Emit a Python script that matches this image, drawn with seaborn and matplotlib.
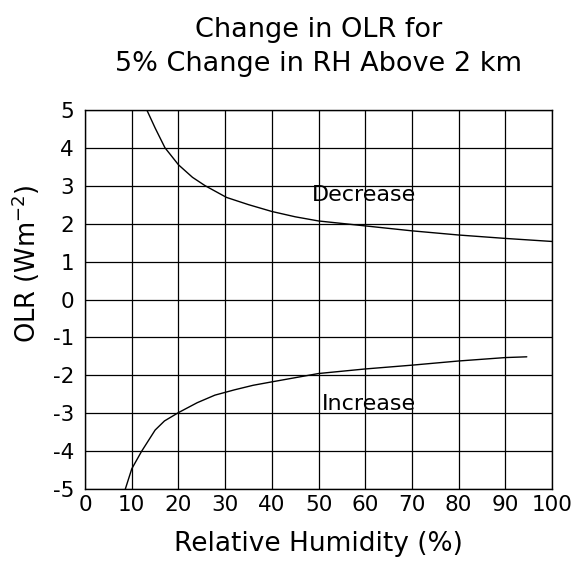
"""
Cambio en OLR para un cambio de 5% en RH por encima de 2 km
"""

import numpy as np
import pandas as pd
import matplotlib
matplotlib.use('Agg')
import matplotlib.pyplot as plt
import seaborn as sns

# Datos
rh_decrease = [13.2, 15, 17.1, 20, 23, 25.7, 30.3, 35, 40, 45, 50, 60, 70, 80, 90, 100]
olr_decrease = [5.0, 4.52, 4.0, 3.55, 3.22, 3.0, 2.69, 2.5, 2.32, 2.18, 2.07, 1.94, 1.81, 1.70, 1.61, 1.53]

rh_increase = [8.6, 10, 12.1, 15, 17, 20, 24, 27.8, 32, 36, 40, 50, 60, 70, 80, 90, 94.6]
olr_increase = [-5.0, -4.46, -4.0, -3.44, -3.2, -2.98, -2.72, -2.52, -2.38, -2.26, -2.17,
                -1.95, -1.83, -1.73, -1.62, -1.53, -1.51]

x_ticks = list(range(0, 101, 10))
y_ticks = list(range(-5, 6))

df_dec = pd.DataFrame({'rh': rh_decrease, 'olr': olr_decrease})
df_inc = pd.DataFrame({'rh': rh_increase, 'olr': olr_increase})

sns.set_style('white')
plt.rcParams['font.family'] = ['DejaVu Sans']
plt.rcParams['axes.unicode_minus'] = False
plt.rcParams['text.color'] = 'black'
plt.rcParams['axes.labelcolor'] = 'black'
plt.rcParams['xtick.color'] = 'black'
plt.rcParams['ytick.color'] = 'black'

fig = plt.figure(figsize=(5.75, 5.63), dpi=100)
ax = fig.add_axes([0.148, 0.131, 0.812, 0.674])

sns.lineplot(data=df_dec, x='rh', y='olr', ax=ax, color='black', linewidth=1.0)
sns.lineplot(data=df_inc, x='rh', y='olr', ax=ax, color='black', linewidth=1.0)

ax.set_xlim(0, 100)
ax.set_ylim(-5, 5)
ax.set_xticks(x_ticks)
ax.set_yticks(y_ticks)
ax.tick_params(axis='both', length=0, labelsize=15.5, colors='black')
ax.tick_params(axis='y', pad=8)
ax.tick_params(axis='x', pad=4)
ax.grid(True, color='black', linewidth=0.9)
for sp in ax.spines.values():
    sp.set_color('black')
    sp.set_linewidth(1.0)

ax.text(48.5, 2.76, 'Decrease', fontsize=16, va='center', ha='left')
ax.text(50.7, -2.76, 'Increase', fontsize=16, va='center', ha='left')

ax.set_xlabel('Relative Humidity (%)', fontsize=19, labelpad=12)
ax.set_ylabel('OLR (Wm$^{-2}$)', fontsize=18.5)
ax.yaxis.set_label_coords(-0.092, 0.595)
ax.set_title('Change in OLR for\n5% Change in RH Above 2 km', fontsize=19.5, pad=28,
             linespacing=1.38)

fig.savefig('out.png', dpi=100)
